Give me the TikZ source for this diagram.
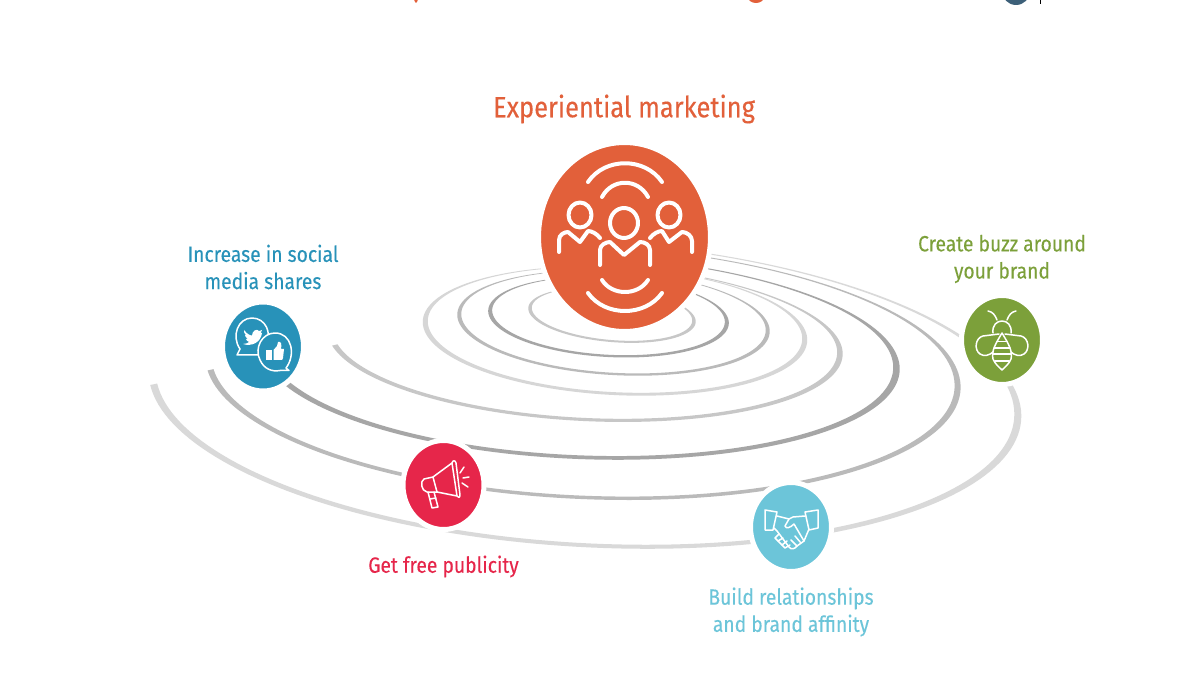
\documentclass[tikz,border=0pt]{standalone}
\usepackage{fontspec}
\setmainfont[FakeBold=0.15]{Fira Sans}
\newfontfamily\headfont[FakeBold=0.25]{Fira Sans}
\usetikzlibrary{shapes.geometric}
\definecolor{orangeC}{HTML}{E2603A}
\definecolor{blueC}{HTML}{2892B9}
\definecolor{redC}{HTML}{E6264A}
\definecolor{tealC}{HTML}{6CC5D9}
\definecolor{greenC}{HTML}{7CA03A}
\definecolor{logoC}{HTML}{3D6079}

\begin{document}
\begin{tikzpicture}[x=0.02cm, y=-0.02cm,
    disc/.style = {ellipse, draw=white, line width=0.1cm, inner sep=0pt, minimum width=1.62cm, minimum height=1.78cm},
    caption/.style = {align=center, transform shape, xscale=0.98, yscale=1.12, font=\fontsize{11.2}{13.8}\selectfont},
    icon/.style = {draw=white, line width=0.08cm, line cap=round, line join=round},
    thin icon/.style = {draw=white, line width=0.03cm, line cap=round, line join=round}]
  \useasboundingbox (0,0) rectangle (1200,675);
  \clip (0,0) rectangle (1200,675);
  \fill[white] (0,0) rectangle (1200,675);

  % cut-off bits of the page above
  \fill[orangeC] (756,-3) ellipse (8 and 6);
  \fill[orangeC] (416,-3) ellipse (2 and 6);
  \fill[logoC] (1016,-9) circle (14);
  \draw[black, line width=0.02cm] (1040,-2) -- (1040,4);

  % rings
  \foreach \cx/\cy/\ra/\rb/\tilt/\tb/\te/\wid/\tone in {
      612/315/84/27/5/0/360/3.5/black!22,
      608.5/317/120.5/40/3.2/0/360/4/black!35,
      613.5/323/156.5/52/3.4/0/360/4/black!27,
      615/331/192.5/64/3/0/360/5/black!16,
      585/342/258/79/2.9/-75/168/5.5/black!22,
      580/357/320/102/2.4/-80/158/6.5/black!35,
      583/372/378/127/2.6/-80/173/6/black!27,
      585/394/437/153/3.3/-80/174/7/black!15} {
    \fill[\tone] plot[domain=\tb:\te, samples=140]
        ({\cx+\ra*cos(\x)*cos(\tilt)-\rb*sin(\x)*sin(\tilt)},
         {\cy+\ra*cos(\x)*sin(\tilt)+\rb*sin(\x)*cos(\tilt)})
      -- plot[domain=\te:\tb, samples=140]
        ({\cx+(\ra-\wid)*cos(\x)*cos(\tilt)-(\rb-0.35*\wid)*sin(\x)*sin(\tilt)},
         {\cy-0.22*\wid+(\ra-\wid)*cos(\x)*sin(\tilt)+(\rb-0.35*\wid)*sin(\x)*cos(\tilt)})
      -- cycle;
  }

  % discs
  \node[disc, fill=orangeC, minimum width=3.44cm, minimum height=3.78cm] (crowd) at (624.5,237) {};
  \node[disc, fill=blueC]  (social) at (263,346.5) {};
  \node[disc, fill=redC]   (publicity) at (443.5,485) {};
  \node[disc, fill=tealC]  (affinity) at (791,527) {};
  \node[disc, fill=greenC] (buzz) at (1002,340) {};

  % texts
  \node[caption, text=orangeC, font=\headfont\fontsize{14.8}{18}\selectfont] (title) at (624,109) {Experiential marketing};
  \node[caption, text=blueC]  (socialtext) at (263,267) {Increase in social\\media shares};
  \node[caption, text=redC]   (publicitytext) at (443.5,566.5) {Get free publicity};
  \node[caption, text=tealC]  (affinitytext) at (791,612) {Build relationships\\and brand affinity};
  \node[caption, text=greenC] (buzztext) at (1002,259) {Create buzz around\\your brand};

  % people
  \draw[icon] (624,223) ellipse (14 and 15);
  \draw[icon] (600,265) -- (600,250) .. controls (600,245) and (606,242) .. (610,242) -- (624,255) -- (640,242) .. controls (645,242) and (650,245) .. (650,250) -- (650,265);
  \draw[icon] (580,215) ellipse (11.5 and 12.5);
  \draw[icon] (559,252) -- (559,240) .. controls (559,235) and (564,232) .. (568,232) -- (580,242) -- (588,231) .. controls (592,231) and (597,234) .. (600,238);
  \draw[icon] (669,215) ellipse (11.5 and 12.5);
  \draw[icon] (650,238) .. controls (653,234) and (658,231) .. (662,231) -- (669,242) -- (682,232) .. controls (687,232) and (692,236) .. (692,241) -- (692,252);
  \draw[icon] (588,182) .. controls (605,157) and (645,157) .. (662,182);
  \draw[icon] (602,197) .. controls (612,178) and (638,178) .. (648,197);
  \draw[icon] (602,280) .. controls (612,296) and (638,296) .. (648,280);
  \draw[icon] (588,293) .. controls (605,317) and (645,317) .. (662,293);

  % bubbles
  \draw[thin icon] (240,349) .. controls (231,336) and (238,318) .. (252,318) .. controls (266,318) and (272,334) .. (266,343);
  \draw[thin icon] (240,349) -- (237,355) -- (258,355);
  \fill[white] (244,330) .. controls (247,334) and (250,335.5) .. (252,335.5) .. controls (252,331) and (257,328) .. (259,331) -- (262,330) -- (260.5,333) -- (262,333) .. controls (261,342) and (252,347) .. (243,344) .. controls (246,344) and (248,343) .. (249,342) .. controls (247,341) and (246,340) .. (246,339) -- (248,339) .. controls (246,338) and (245,336) .. (245,335) -- (246.5,335.5) .. controls (244,334) and (244,332) .. (244,330) -- cycle;
  \draw[thin icon, fill=blueC] (286,368) .. controls (296,355) and (292,333) .. (275,333) .. controls (262,333) and (254,348) .. (260,360) .. controls (264,369) and (272,372) .. (280,370.5) -- (289,370.5) -- cycle;
  \fill[white] (266,350) rectangle (272,360);
  \fill[white] (273.5,360) -- (273.5,350) -- (277,346) -- (278,342) .. controls (281,341) and (282,344) .. (281,349) -- (284,349) -- (283,358) -- (282,360) -- cycle;

  % megaphone
  \draw[thin icon] (452,463) -- (433,477) -- (437,492) -- (457,496) -- cycle;
  \draw[thin icon] (452,463) .. controls (453,460) and (455,460) .. (456,463) -- (460,495) .. controls (460,498) and (458,498) .. (457,496);
  \draw[thin icon] (433,477) -- (424,479) .. controls (420,481) and (421,491) .. (427,492) -- (437,492);
  \draw[thin icon] (428,492) -- (432,508) -- (438,507) -- (434,492);
  \draw[thin icon] (430,499) -- (436,498);
  \draw[thin icon] (460,473) -- (464,467);
  \draw[thin icon] (463,478) -- (469,477);
  \draw[thin icon] (462,483) -- (468,487);

  % handshake
  \draw[thin icon] (765,510) -- (777,512) -- (773,530) -- (765,530) -- cycle;
  \draw[thin icon] (805,512) -- (818,510) -- (818,528) -- (809,530) -- cycle;
  \draw[thin icon] (777,516) -- (789,519) -- (793,517) -- (805,516);
  \draw[thin icon] (774,528) -- (777,531) -- (789,547) .. controls (791,550) and (795,549) .. (797,546) -- (804,541) -- (809,529);
  \draw[thin icon] (789,519) -- (785,526) .. controls (786,529) and (790,528) .. (794,524) -- (804,541);
  \draw[thin icon] (779,534) -- (775,538) -- (778,541) -- (783,538);
  \draw[thin icon] (778,541) -- (782,545) -- (787,541);
  \draw[thin icon] (782,545) -- (785,548) -- (790,545);
  \draw[thin icon] (797,546) -- (791,540);
  \draw[thin icon] (801,543) -- (795,536);

  % bee
  \draw[thin icon] (988,311) .. controls (993,312) and (995,315) .. (997,320);
  \draw[thin icon] (1016,311) .. controls (1011,312) and (1009,315) .. (1007,320);
  \draw[thin icon] (993,333) .. controls (991,317) and (1013,317) .. (1011,333);
  \draw[thin icon] (1002,333) .. controls (996,343) and (991,351) .. (993,359) .. controls (995,364) and (999,367) .. (1002,370) .. controls (1005,367) and (1009,364) .. (1011,359) .. controls (1013,351) and (1008,343) .. (1002,333) -- cycle;
  \draw[thin icon] (997,341.5) -- (1007,341.5);
  \draw[thin icon] (994,348) -- (1010,348);
  \draw[thin icon] (993,354) -- (1011,354);
  \draw[thin icon] (995,361) -- (1009,361);
  \draw[thin icon] (999,334) -- (983,336) .. controls (975,338) and (974,350) .. (980,354) .. controls (984,357) and (990,355) .. (993,352);
  \draw[thin icon] (1005,334) -- (1021,336) .. controls (1029,338) and (1030,350) .. (1024,354) .. controls (1020,357) and (1014,355) .. (1011,352);
\end{tikzpicture}
\end{document}
